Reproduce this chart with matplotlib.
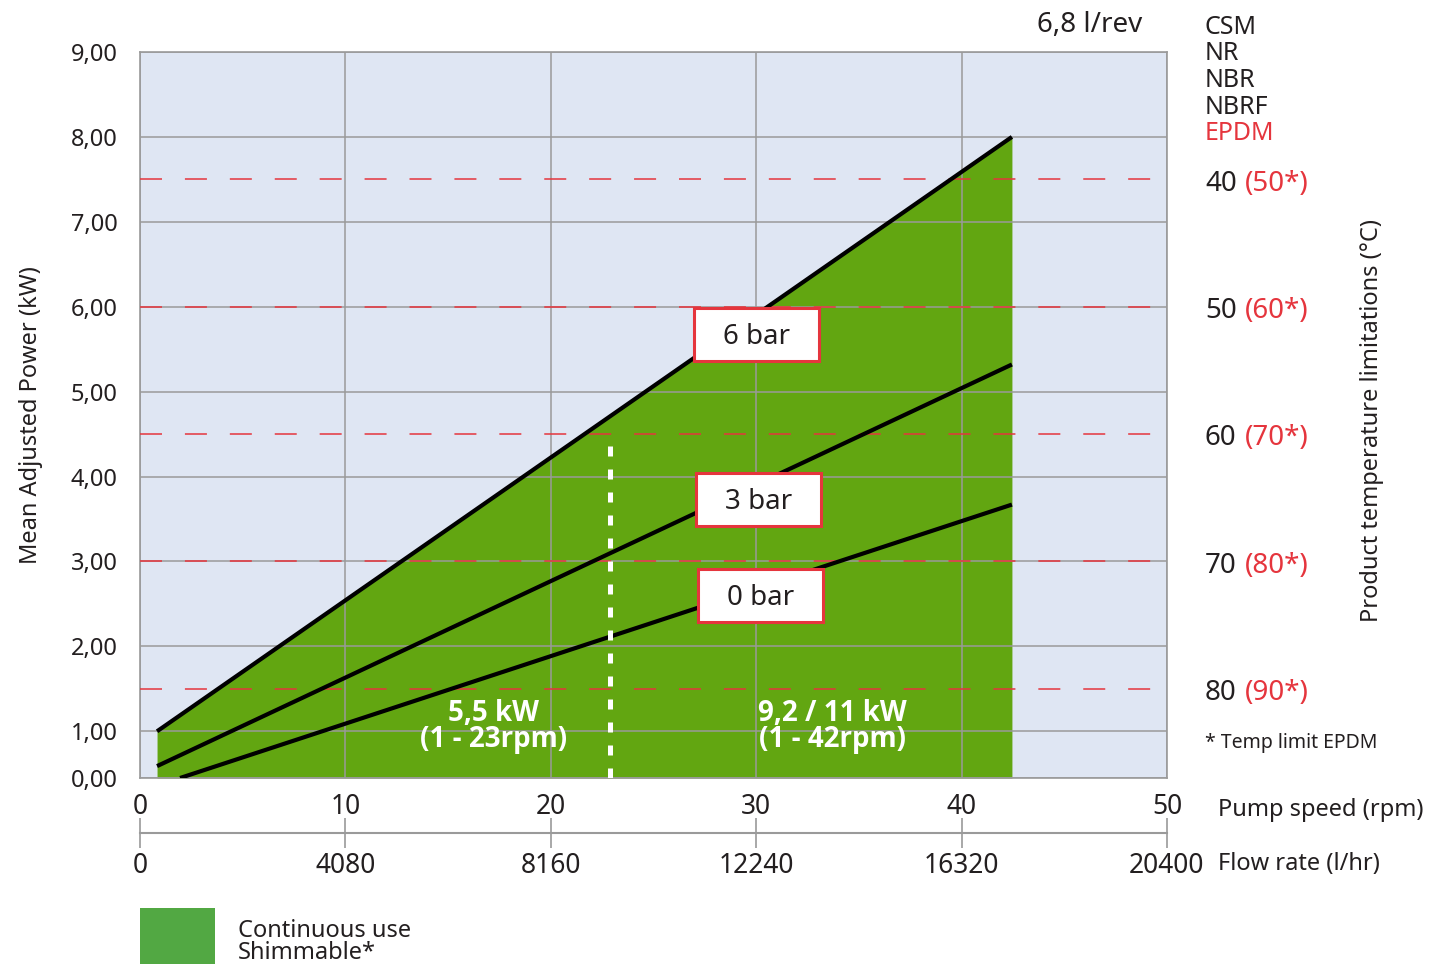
import numpy as np
import matplotlib.pyplot as plt
from matplotlib.patches import Rectangle

plt.rcParams['font.family'] = ['Noto Sans', 'DejaVu Sans']

# pump speed (rpm) -> power (kW) for each pressure
rpm_6bar = [0.83, 42.45]
kw_6bar = [1.0, 8.0]
rpm_3bar = [0.83, 42.45]
kw_3bar = [0.59, 5.32]
rpm_0bar = [1.95, 42.45]
kw_0bar = [0.45, 3.67]

# temperature limit levels (kW axis) and labels
temp_levels = [7.5, 6.0, 4.5, 3.0, 1.5]
temp_std = ['40', '50', '60', '70', '80']
temp_epdm = ['(50*)', '(60*)', '(70*)', '(80*)', '(90*)']

rpm_ticks = [0, 10, 20, 30, 40, 50]
flow_ticks = [0, 4080, 8160, 12240, 16320, 20400]
kw_ticks = [0.45, 1, 2, 3, 4, 5, 6, 7, 8, 9]
kw_labels = ['0,00', '1,00', '2,00', '3,00', '4,00', '5,00', '6,00', '7,00', '8,00', '9,00']
lpr = 6.8  # l/rev
motor_split = 22.9
motor_top = 4.46

GREEN = '#62a611'
RED = '#e5353d'
GRAY = '#9a9a9a'
TXT = '#231f20'

fig = plt.figure(figsize=(14.4, 9.64), dpi=100)
ax = fig.add_axes([140 / 1440, 1 - 778 / 964, 1027 / 1440, 726 / 964])
ax.set_facecolor('#dfe6f3')
ax.set_xlim(0, 50)
ax.set_ylim(0.45, 9.0)

# green area under 6 bar curve
ax.fill_between(rpm_6bar, 0.45, kw_6bar, color=GREEN, lw=0, zorder=1)

ax.set_axisbelow(False)
ax.grid(True, color=GRAY, lw=1.1)
for s in ax.spines.values():
    s.set_color(GRAY)
    s.set_linewidth(1.2)

for lv in temp_levels:
    ax.axhline(lv, color=RED, lw=1.1, dashes=(14.4, 15), zorder=2.6)

for xs, ys in [(rpm_6bar, kw_6bar), (rpm_3bar, kw_3bar), (rpm_0bar, kw_0bar)]:
    ax.plot(xs, ys, color='black', lw=3.0, zorder=3, solid_capstyle='butt')

ax.plot([motor_split, motor_split], [0.45, motor_top], color='white', lw=3.6,
        dashes=(2.0, 2.6), zorder=3)

# pressure labels
for lbl, cx, cy in [('6 bar', 30.0, 5.67), ('3 bar', 30.1, 3.73), ('0 bar', 30.2, 2.60)]:
    ax.add_patch(Rectangle((cx - 3.05, cy - 0.31), 6.1, 0.62, facecolor='white',
                           edgecolor=RED, lw=2.2, zorder=5))
    ax.text(cx, cy - 0.03, lbl, ha='center', va='center', fontsize=20, color=TXT, zorder=6)

bold = dict(ha='center', va='center', color='white', fontsize=20, fontweight='bold',
            family=['Open Sans', 'DejaVu Sans'], linespacing=0.88, zorder=6)
ax.text(17.2, 1.06, '5,5 kW\n(1 - 23rpm)', **bold)
ax.text(33.7, 1.06, '9,2 / 11 kW\n(1 - 42rpm)', **bold)

ax.set_xticks(rpm_ticks)
ax.set_xticklabels([str(t) for t in rpm_ticks])
ax.set_yticks(kw_ticks)
ax.set_yticklabels(kw_labels)
ax.tick_params(axis='x', length=0, pad=11, labelsize=19, labelcolor=TXT)
ax.tick_params(axis='y', length=0, pad=16, labelsize=17, labelcolor=TXT)
ax.set_ylabel('Mean Adjusted Power (kW)', fontsize=17, color=TXT, labelpad=20)

# flow rate axis
sec = ax.secondary_xaxis(-55 / 726, functions=(lambda r: r * lpr * 60, lambda f: f / (lpr * 60)))
sec.set_xticks(flow_ticks)
sec.set_xticklabels([str(t) for t in flow_ticks])
sec.spines['bottom'].set_color(GRAY)
sec.spines['bottom'].set_linewidth(1.5)
sec.tick_params(direction='inout', length=22, width=1.2, color=GRAY, labelsize=19,
                labelcolor=TXT, pad=3)

ax.text(1.05, -0.044, 'Pump speed (rpm)', transform=ax.transAxes, ha='left', va='center',
        fontsize=17, color=TXT)
ax.text(1.05, -0.118, 'Flow rate (l/hr)', transform=ax.transAxes, ha='left', va='center',
        fontsize=17, color=TXT)

# right side temperature labels
ytr = ax.get_yaxis_transform()
for lv, a, b in zip(temp_levels, temp_std, temp_epdm):
    ax.text(1.037, lv - 0.05, a, transform=ytr, ha='left', va='center', fontsize=20, color=TXT)
    ax.text(1.076, lv - 0.05, b, transform=ytr, ha='left', va='center', fontsize=20, color=RED)

for i, mat in enumerate(['CSM', 'NR', 'NBR', 'NBRF', 'EPDM']):
    fig.text(1205 / 1440, 1 - (27 + i * 26.75) / 964, mat, ha='left', va='center',
             fontsize=18, color=RED if mat == 'EPDM' else TXT)

fig.text(1090 / 1440, 1 - 25 / 964, '6,8 l/rev', ha='center', va='center', fontsize=20, color=TXT)
fig.text(1205 / 1440, 1 - 743 / 964, '* Temp limit EPDM', ha='left', va='center',
         fontsize=14, color=TXT)
fig.text(1372 / 1440, 1 - 420 / 964, 'Product temperature limitations (°C)', rotation=90,
         ha='center', va='center', fontsize=17, color=TXT)

# legend
fig.patches.append(Rectangle((140 / 1440, 0), 75 / 1440, 56 / 964, facecolor='#52a843',
                             edgecolor='none', transform=fig.transFigure))
fig.text(238 / 1440, 1 - 942 / 964, 'Continuous use\nShimmable*', ha='left', va='center',
         fontsize=17, color=TXT, linespacing=0.85)

fig.savefig('out.png', dpi=100)
